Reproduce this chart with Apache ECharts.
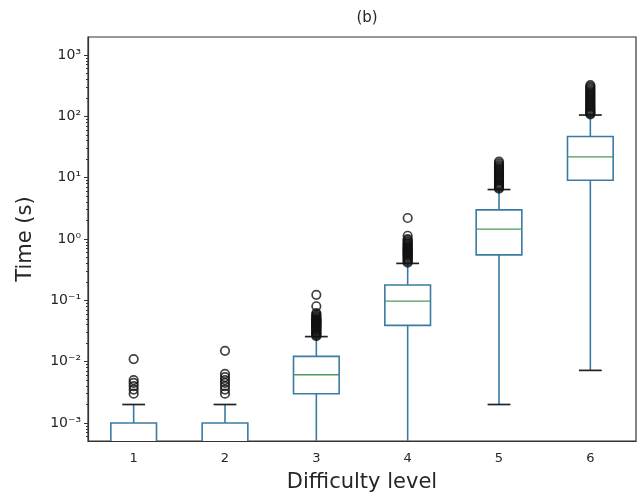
<!DOCTYPE html>
<html>
<head>
<meta charset="utf-8">
<script src="https://cdn.jsdelivr.net/npm/echarts@6/dist/echarts.min.js"></script>
<style>html,body{margin:0;padding:0;background:#fff}#c{width:638px;height:492px}</style>
</head>
<body>
<div id="c"></div>
<script>
// ---- data ----
const categories = ['1', '2', '3', '4', '5', '6'];
// [lowerWhisker, Q1, median, Q3, upperWhisker]  (values below the axis are clipped)
const level1Box = [0.0001, 0.0001, 0.0001, 0.001, 0.002];
const level2Box = [0.0001, 0.0001, 0.0001, 0.001, 0.002];
const level3Box = [0.0001, 0.003, 0.0061, 0.0122, 0.0256];
const level4Box = [0.0001, 0.039, 0.097, 0.178, 0.40];
const level5Box = [0.002, 0.55, 1.45, 2.98, 6.4];
const level6Box = [0.0072, 9.1, 21.8, 47, 105];

const level1Fliers = [0.003, 0.0035, 0.004, 0.0045, 0.005, 0.011];
const level2Fliers = [0.003, 0.0035, 0.004, 0.0045, 0.005, 0.0056, 0.0063, 0.015];
const level3Fliers = [0.026, 0.027, 0.028, 0.029, 0.030, 0.031, 0.032, 0.033, 0.034, 0.035, 0.036, 0.037, 0.038, 0.039, 0.040, 0.041, 0.042, 0.043, 0.044, 0.045, 0.046, 0.047, 0.048, 0.049, 0.050, 0.052, 0.054, 0.056, 0.059, 0.062, 0.08, 0.123];
const level4Fliers = [0.41, 0.43, 0.45, 0.47, 0.49, 0.51, 0.53, 0.55, 0.57, 0.59, 0.61, 0.63, 0.65, 0.67, 0.69, 0.71, 0.74, 0.77, 0.80, 0.83, 0.87, 0.91, 0.96, 1.0, 1.13, 2.2];
const level5Fliers = [6.6, 6.9, 7.2, 7.5, 7.8, 8.1, 8.5, 8.9, 9.3, 9.7, 10.1, 10.6, 11.1, 11.6, 12.1, 12.7, 13.3, 13.9, 14.6, 15.3, 16.1, 17.1, 18.3];
const level6Fliers = [108, 112, 116, 121, 126, 131, 137, 143, 149, 156, 163, 171, 179, 187, 196, 206, 216, 226, 237, 249, 261, 276, 291, 306, 322];

const majorTicks = [0.001, 0.01, 0.1, 1, 10, 100, 1000];
const minorMultipliers = [2, 3, 4, 5, 6, 7, 8, 9];
const yMin = 0.000508, yMax = 1967;

// ---- build ----
const boxes = [level1Box, level2Box, level3Box, level4Box, level5Box, level6Box];
const fliers = [level1Fliers, level2Fliers, level3Fliers, level4Fliers, level5Fliers, level6Fliers];
const boxData = boxes.map((b, i) => [i].concat(b));
const flierData = [];
fliers.forEach((arr, i) => arr.forEach(v => flierData.push([i, v])));
const minorTicks = [];
[0.0001, 0.001, 0.01, 0.1, 1, 10, 100, 1000].forEach(d => minorMultipliers.forEach(m => {
  const v = d * m; if (v > yMin && v < yMax) minorTicks.push(v);
}));

const sup = {'0':'⁰','1':'¹','2':'²','3':'³','4':'⁴','5':'⁵','6':'⁶','7':'⁷','8':'⁸','9':'⁹','-':'⁻'};
function fmt(v) {
  const e = Math.round(Math.log10(v));
  return '10' + String(e).split('').map(c => sup[c]).join('');
}

const boxColor = '#3a7ba3';
const medColor = '#4f9a55';
const txt = '#262626';

const chart = echarts.init(document.getElementById('c'), null, {renderer: 'canvas'});
chart.setOption({
  backgroundColor: '#fff',
  animation: false,
  title: {
    text: '(b)', left: 362, top: 6, textAlign: 'center',
    textStyle: {fontFamily: 'DejaVu Sans', fontSize: 15, fontWeight: 'normal', color: txt}
  },
  grid: {left: 88, right: 2, top: 37, bottom: 51, show: true, borderColor: '#333', borderWidth: 1.2,
    backgroundColor: 'transparent', containLabel: false, outerBoundsMode: 'none'},
  xAxis: {
    type: 'category', data: categories,
    name: 'Difficulty level', nameLocation: 'middle', nameGap: 31,
    nameTextStyle: {fontFamily: 'DejaVu Sans', fontSize: 21, color: txt},
    axisLine: {lineStyle: {color: '#333', width: 1.2}},
    axisTick: {alignWithLabel: true, length: 4, lineStyle: {color: '#333'}},
    axisLabel: {fontFamily: 'DejaVu Sans', fontSize: 13, color: txt, margin: 11},
    splitLine: {show: false}
  },
  yAxis: [{
    type: 'log', logBase: 10, min: yMin, max: yMax,
    name: 'Time (s)', nameLocation: 'middle', nameGap: 52,
    nameTextStyle: {fontFamily: 'DejaVu Sans', fontSize: 21, color: txt},
    axisLine: {show: true, lineStyle: {color: '#333', width: 1.2}},
    axisTick: {show: true, length: 4, customValues: majorTicks, lineStyle: {color: '#333'}},
    axisLabel: {customValues: majorTicks, formatter: fmt, fontFamily: 'DejaVu Sans', fontSize: 14, color: txt, margin: 7},
    splitLine: {show: false}
  }, {
    type: 'log', logBase: 10, min: yMin, max: yMax, position: 'left',
    axisLine: {show: false},
    axisTick: {show: true, length: 2, customValues: minorTicks, lineStyle: {color: '#333'}},
    axisLabel: {show: false},
    splitLine: {show: false}
  }],
  series: [{
    type: 'custom',
    clip: true,
    data: boxData,
    encode: {x: 0, y: [1, 2, 3, 4, 5]},
    renderItem: function (params, api) {
      const x = api.value(0);
      const lo = api.value(1), q1 = api.value(2), med = api.value(3), q3 = api.value(4), hi = api.value(5);
      const pQ3 = api.coord([x, q3]);
      const band = api.coord([1, q3])[0] - api.coord([0, q3])[0];
      const cx = pQ3[0];
      const yLo = api.coord([x, lo])[1], yQ1 = api.coord([x, q1])[1], yMed = api.coord([x, med])[1], yQ3 = pQ3[1], yHi = api.coord([x, hi])[1];
      const bw = band * 0.5, cw = band * 0.25;
      const ls = {stroke: boxColor, lineWidth: 1.6, fill: null};
      return {
        type: 'group',
        children: [
          {type: 'line', shape: {x1: cx, y1: yQ1, x2: cx, y2: yLo}, style: ls},
          {type: 'line', shape: {x1: cx, y1: yQ3, x2: cx, y2: yHi}, style: ls},
          {type: 'line', shape: {x1: cx - cw / 2, y1: yLo, x2: cx + cw / 2, y2: yLo}, style: {stroke: '#222', lineWidth: 1.7}},
          {type: 'line', shape: {x1: cx - cw / 2, y1: yHi, x2: cx + cw / 2, y2: yHi}, style: {stroke: '#222', lineWidth: 1.7}},
          {type: 'rect', shape: {x: cx - bw / 2, y: yQ3, width: bw, height: yQ1 - yQ3}, style: {stroke: boxColor, lineWidth: 1.6, fill: '#fff'}},
          {type: 'line', shape: {x1: cx - bw / 2, y1: yMed, x2: cx + bw / 2, y2: yMed}, style: {stroke: medColor, lineWidth: 1.4}}
        ]
      };
    }
  }, {
    type: 'scatter',
    data: flierData,
    symbol: 'circle',
    symbolSize: 8.5,
    itemStyle: {color: 'rgba(255,255,255,0)', borderColor: '#111', borderWidth: 1.7},
    z: 3
  }]
});
</script>
</body>
</html>
